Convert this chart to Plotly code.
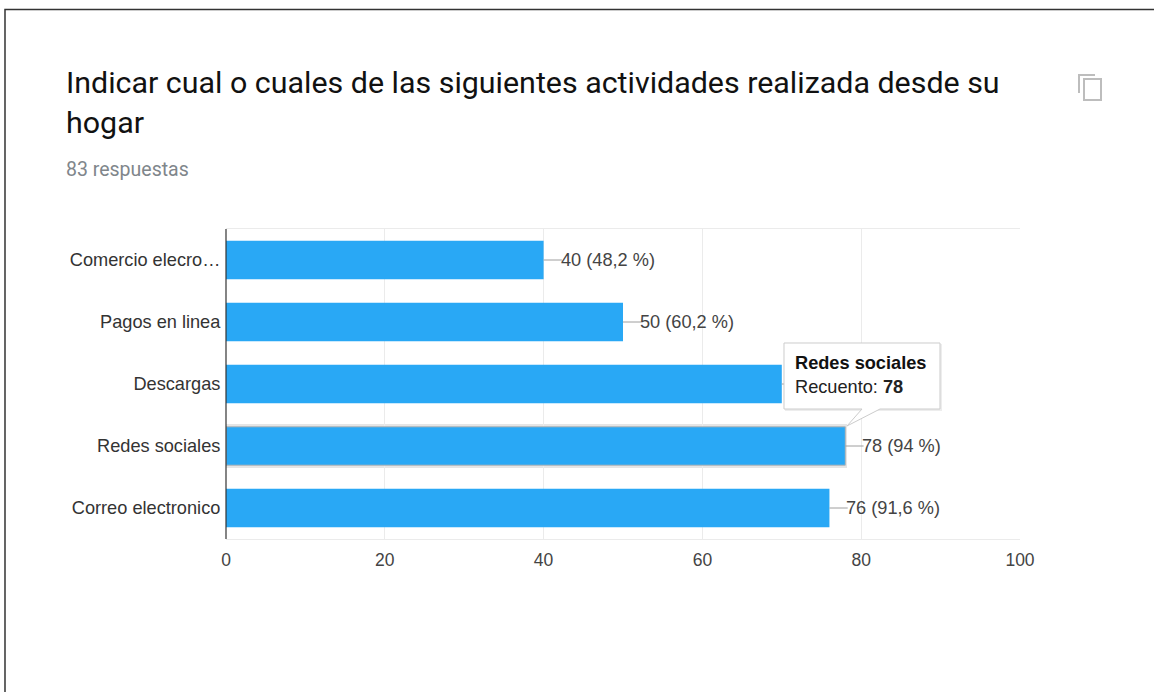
import plotly.graph_objects as go

categories = ["Comercio elecro…", "Pagos en linea", "Descargas", "Redes sociales", "Correo electronico"]
values = [40, 50, 70, 78, 76]
percents = ["48,2 %", "60,2 %", "84,3 %", "94 %", "91,6 %"]
x_ticks = [0, 20, 40, 60, 80, 100]
title_lines = ["Indicar cual o cuales de las siguientes actividades realizada desde su", "hogar"]
subtitle = "83 respuestas"
tooltip_name = "Redes sociales"
tooltip_count = 78

W, H = 1154, 692
L, R, T, B = 226, 1020, 229, 539
BLUE = "#29a8f5"
SANS = "Liberation Sans, Arial, sans-serif"

def px(x):
    return (x - L) / (R - L)

def py(y):
    return (B - y) / (B - T)

def rect(x0, y0, x1, y1, **kw):
    return dict(type="rect", xref="paper", yref="paper", x0=px(x0), x1=px(x1), y0=py(y0), y1=py(y1), **kw)

def path(points, close=True, **kw):
    d = "M " + " L ".join(f"{px(a):.5f},{py(b):.5f}" for a, b in points) + (" Z" if close else "")
    return dict(type="path", xref="paper", yref="paper", path=d, **kw)

def text(x, y, s, size, color, family, anchor="left"):
    return dict(xref="paper", yref="paper", x=px(x), y=py(y), text=s, showarrow=False,
                xanchor=anchor, yanchor="middle", align="left", xshift=-2,
                font=dict(size=size, color=color, family=family))

fig = go.Figure(go.Bar(
    x=values, y=categories, orientation="h", width=0.62,
    marker=dict(color=BLUE, line=dict(color="#b5b5b5", width=[0, 0, 0, 1, 0])),
    error_x=dict(type="data", symmetric=False, array=[2.3] * 5, arrayminus=[0] * 5,
                 color="#9e9e9e", thickness=1, width=0),
    hoverinfo="skip",
))

annotations = [
    text(66, 82, title_lines[0], 30.4, "#111111", "Roboto"),
    text(66, 123, title_lines[1], 30.4, "#111111", "Roboto"),
    text(66, 169, subtitle, 19.5, "#80868b", "Roboto"),
    text(795, 363, f"<b>{tooltip_name}</b>", 18.2, "#111111", SANS),
    text(795, 387, f"Recuento: <b>{tooltip_count}</b>", 18.2, "#222222", SANS),
]
for cat, v, p in zip(categories, values, percents):
    if cat == "Descargas":  # label sits under the tooltip in the reference
        continue
    annotations.append(dict(x=v, y=cat, xref="x", yref="y", text=f"{v} ({p})", showarrow=False,
                            xanchor="left", yanchor="middle", xshift=15,
                            font=dict(size=18.2, color="#444444", family=SANS)))

ICON = "#bdbdbd"
shapes = [
    # page frame
    path([(5, 692), (5, 9.5), (1154, 9.5)], close=False, line=dict(color="#333333", width=1.5)),
    # y axis line
    dict(type="line", xref="paper", yref="paper", x0=0, x1=0, y0=0, y1=1, layer="above",
         line=dict(color="#333333", width=1.2)),
    # copy icon
    path([(1079, 93), (1079, 75), (1095, 75)], close=False, line=dict(color=ICON, width=2)),
    rect(1084, 79, 1101, 100, line=dict(color=ICON, width=2)),
    # highlighted bar shadow
    rect(226, 424, 847, 468, fillcolor="rgba(0,0,0,0.10)", line_width=0, layer="below"),
    # tooltip shadow
    rect(785, 344, 942, 411, fillcolor="rgba(0,0,0,0.07)", line_width=0),
    # tooltip
    path([(784, 343), (940, 343), (940, 409), (880, 409), (847, 426), (862, 409), (784, 409)],
         fillcolor="#ffffff", line=dict(color="#cccccc", width=1)),
]

fig.update_layout(
    width=W, height=H, autosize=False,
    margin=dict(l=L, r=W - R, t=T, b=H - B, pad=0),
    paper_bgcolor="#ffffff", plot_bgcolor="#ffffff",
    showlegend=False, bargap=0.38,
    font=dict(family=SANS, size=18, color="#444444"),
    xaxis=dict(range=[0, 100], tickvals=x_ticks, showgrid=True, gridcolor="#ebebeb", gridwidth=1,
               zeroline=False, showline=True, linecolor="#ebebeb", mirror=True,
               ticks="outside", ticklen=5, tickcolor="rgba(0,0,0,0)",
               tickfont=dict(size=17.5, color="#444444", family=SANS)),
    yaxis=dict(categoryorder="array", categoryarray=categories[::-1], showgrid=False, zeroline=False,
               showline=False, ticks="outside", ticklen=1, tickcolor="rgba(0,0,0,0)",
               tickfont=dict(size=18.2, color="#333333", family=SANS)),
    annotations=annotations,
    shapes=shapes,
)

fig.write_html("out.html", config=dict(displayModeBar=False),
               post_script="document.body.style.margin='0';document.documentElement.style.overflow='hidden';")
